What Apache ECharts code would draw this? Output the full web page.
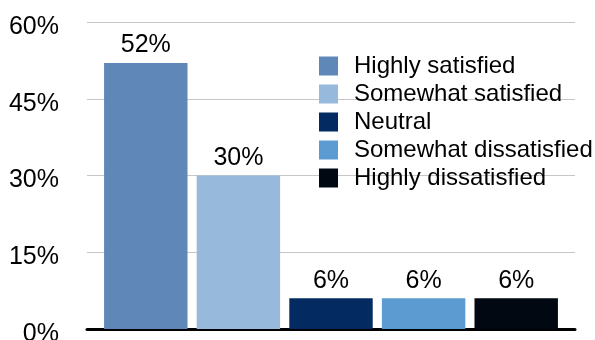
<!DOCTYPE html>
<html>
<head>
<meta charset="utf-8">
<style>
  html, body { margin: 0; padding: 0; background: #ffffff; }
  #chart { width: 595px; height: 340px; }
</style>
<script src="https://cdn.jsdelivr.net/npm/echarts@6/dist/echarts.min.js"></script>
</head>
<body>
<div id="chart"></div>
<script>
// Satisfaction levels and share of respondents (%)
const levels = ['Highly satisfied', 'Somewhat satisfied', 'Neutral', 'Somewhat dissatisfied', 'Highly dissatisfied'];
const shares = [52, 30, 6, 6, 6];
const colors = ['#5f87b8', '#97b9db', '#032b61', '#5b9bd1', '#020811'];
const yTicks = { min: 0, max: 60, interval: 15 };

const FONT = '"Liberation Sans", Arial, Helvetica, sans-serif';

const series = levels.map((name, i) => ({
  name: name,
  type: 'bar',
  data: [shares[i]],
  itemStyle: { color: colors[i] },
  barGap: '11%',
  barCategoryGap: '7%',
  label: {
    show: true,
    position: 'top',
    distance: 5,
    formatter: '{c}%',
    color: '#000',
    fontFamily: FONT,
    fontSize: 25
  }
}));

const chart = echarts.init(document.getElementById('chart'), null, { renderer: 'canvas' });
chart.setOption({
  animation: false,
  backgroundColor: '#ffffff',
  grid: { left: 87, right: 20, top: 22, bottom: 11, containLabel: false, outerBoundsMode: 'none' },
  legend: {
    data: levels,
    orient: 'vertical',
    left: 319,
    top: 54,
    padding: 0,
    itemWidth: 19,
    itemHeight: 19,
    itemGap: 4,
    icon: 'rect',
    textStyle: {
      color: '#000',
      fontFamily: FONT,
      fontSize: 24,
      padding: [0, 0, 0, 11]
    }
  },
  xAxis: {
    type: 'category',
    data: [''],
    axisLine: { show: true, lineStyle: { color: '#000', width: 3 } },
    axisTick: { show: false },
    axisLabel: { show: false }
  },
  yAxis: {
    type: 'value',
    min: yTicks.min,
    max: yTicks.max,
    interval: yTicks.interval,
    axisLine: { show: false },
    axisTick: { show: false },
    axisLabel: {
      formatter: (v) => '{t|' + v + '%}',
      margin: 28,
      rich: {
        t: {
          color: '#000',
          fontFamily: FONT,
          fontSize: 25,
          padding: [10, 0, 0, 0]
        }
      }
    },
    splitLine: { lineStyle: { color: '#c6c6c6', width: 1 } }
  },
  series: series
});
</script>
</body>
</html>
